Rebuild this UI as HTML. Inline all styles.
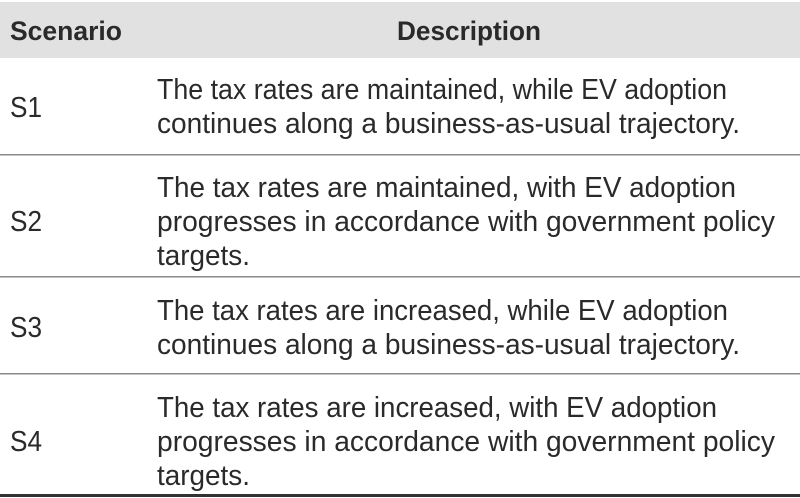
<!DOCTYPE html>
<html><head><meta charset="utf-8"><style>
html,body{margin:0;padding:0;background:#fff;width:800px;height:498px;overflow:hidden}
svg{display:block}
text{font-family:"Liberation Sans",sans-serif;fill:#2a2a2a}
.b{font-size:29px;font-weight:300}
.h{font-size:27px;font-weight:bold}
</style></head><body>
<svg width="800" height="498" viewBox="0 0 800 498">
<rect x="0" y="2" width="800" height="56" fill="#e1e1e1"/>
<text class="h" x="10" y="40" textLength="112" lengthAdjust="spacingAndGlyphs">Scenario</text>
<text class="h" x="397" y="40" textLength="144" lengthAdjust="spacingAndGlyphs">Description</text>

<text class="b" x="10" y="117" textLength="32" lengthAdjust="spacingAndGlyphs">S1</text>
<text class="b" x="157" y="99" textLength="570" lengthAdjust="spacingAndGlyphs">The tax rates are maintained, while EV adoption</text>
<text class="b" x="157" y="133" textLength="583" lengthAdjust="spacingAndGlyphs">continues along a business-as-usual trajectory.</text>
<rect x="0" y="154" width="800" height="1.5" fill="#8a8a8a"/>

<text class="b" x="10" y="231" textLength="32" lengthAdjust="spacingAndGlyphs">S2</text>
<text class="b" x="157" y="197" textLength="579" lengthAdjust="spacingAndGlyphs">The tax rates are maintained, with EV adoption</text>
<text class="b" x="157" y="231" textLength="618" lengthAdjust="spacingAndGlyphs">progresses in accordance with government policy</text>
<text class="b" x="157" y="265" textLength="93" lengthAdjust="spacingAndGlyphs">targets.</text>
<rect x="0" y="276" width="800" height="1.5" fill="#8a8a8a"/>

<text class="b" x="10" y="337" textLength="32" lengthAdjust="spacingAndGlyphs">S3</text>
<text class="b" x="157" y="320" textLength="571" lengthAdjust="spacingAndGlyphs">The tax rates are increased, while EV adoption</text>
<text class="b" x="157" y="354" textLength="583" lengthAdjust="spacingAndGlyphs">continues along a business-as-usual trajectory.</text>
<rect x="0" y="373" width="800" height="1.5" fill="#8a8a8a"/>

<text class="b" x="10" y="451" textLength="32" lengthAdjust="spacingAndGlyphs">S4</text>
<text class="b" x="157" y="417" textLength="560" lengthAdjust="spacingAndGlyphs">The tax rates are increased, with EV adoption</text>
<text class="b" x="157" y="451" textLength="618" lengthAdjust="spacingAndGlyphs">progresses in accordance with government policy</text>
<text class="b" x="157" y="485" textLength="93" lengthAdjust="spacingAndGlyphs">targets.</text>
<rect x="0" y="494" width="800" height="3" fill="#333"/>
</svg>
</body></html>
